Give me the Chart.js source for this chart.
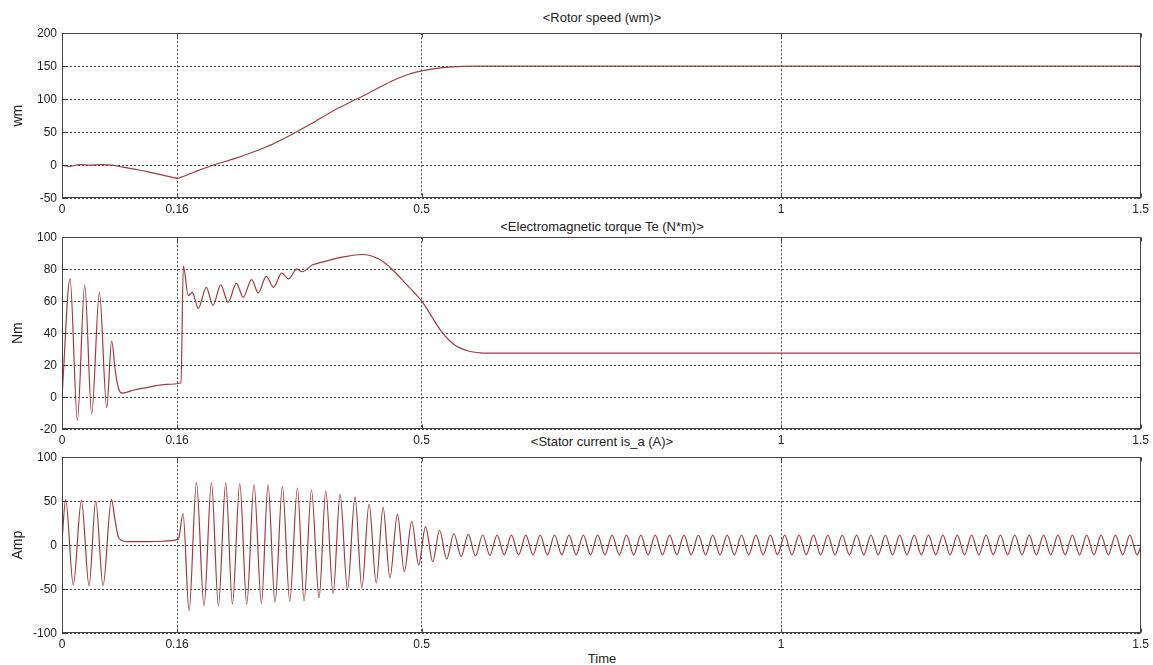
<!DOCTYPE html>
<html>
<head>
<meta charset="utf-8">
<script src="https://cdn.jsdelivr.net/npm/chart.js@4.4.0/dist/chart.umd.min.js"></script>
<style>
  body { margin: 0; background: #fff; width: 1153px; height: 665px; overflow: hidden; position: relative;
         font-family: "Liberation Sans", Arial, sans-serif; }
  canvas { position: absolute; left: 0; }
  .ttl { position: absolute; left: 62px; width: 1080px; text-align: center; font-size: 13px;
         line-height: 15px; color: #222; }
</style>
</head>
<body>
<div class="ttl" id="t1" style="top:10px"></div>
<div class="ttl" id="t2" style="top:219px"></div>
<div class="ttl" id="t3" style="top:434px"></div>
<div class="ttl" id="t4" style="top:651px"></div>
<canvas id="c1" width="1153" height="200"></canvas>
<canvas id="c2" width="1153" height="220"></canvas>
<canvas id="c3" width="1153" height="200"></canvas>
<script>
// titles and axis labels
var plotTitles = ['<Rotor speed (wm)>', '<Electromagnetic torque Te (N*m)>', '<Stator current is_a (A)>'];
var xLabel = 'Time';
var yLabels = ['wm', 'Nm', 'Amp'];
var xTicks = [0, 0.16, 0.5, 1, 1.5];

// [time, value]
var speedData = [
  [0, 0], [0.01, -2], [0.025, 1], [0.04, 0], [0.055, 1], [0.07, 0], [0.085, -3], [0.1, -6],
  [0.12, -10], [0.14, -15], [0.155, -18.8], [0.16, -20], [0.165, -18.5], [0.185, -10], [0.21, 0],
  [0.24, 10], [0.266, 20], [0.295, 33], [0.322, 48], [0.35, 65], [0.378, 83], [0.4, 95],
  [0.424, 108], [0.445, 120], [0.462, 129], [0.48, 137], [0.5, 143], [0.526, 147.5],
  [0.55, 149.5], [0.58, 150], [1.5, 150]
];

var torqueData = [
  [0, 0], [0.0112, 74], [0.0214, -14.5], [0.0316, 70], [0.0413, -10.5], [0.052, 65.5],
  [0.0622, -6.5], [0.069, 35], [0.0745, 15], [0.079, 5], [0.084, 2.5], [0.1, 4.5], [0.123, 6.5],
  [0.145, 8], [0.1655, 9], [0.1687, 82], [0.1756, 63.5], [0.1812, 65.5], [0.1895, 55.5],
  [0.2006, 68.7], [0.21, 57.3], [0.2207, 70.2], [0.231, 59.4], [0.2425, 71.2], [0.252, 62.5],
  [0.2637, 73.5], [0.273, 65.2], [0.284, 75.5], [0.294, 68.7], [0.3055, 77.6], [0.315, 73.9],
  [0.3264, 80.1], [0.334, 78.4], [0.348, 82.6], [0.367, 85], [0.39, 87.5], [0.417, 89.2],
  [0.44, 86.5], [0.459, 80], [0.48, 70], [0.5, 60.2], [0.527, 41.5], [0.545, 33], [0.564, 29],
  [0.582, 27.7], [0.6, 27.5], [1.5, 27.5]
];

var currentData = [
  [0, 5], [0.0051, 52], [0.0157, -45], [0.027, 51], [0.0376, -46], [0.0469, 50], [0.0571, -46],
  [0.0687, 52], [0.0735, 30], [0.078, 10], [0.083, 5.5], [0.09, 4], [0.12, 4], [0.14, 4.5],
  [0.155, 5.5], [0.1618, 7],
  [0.1683, 36], [0.1767, -74.5], [0.187, 71], [0.1975, -69], [0.2078, 71], [0.2175, -69],
  [0.2277, 71], [0.237, -67], [0.2472, 70], [0.2569, -67], [0.267, 69], [0.2773, -66],
  [0.2865, 69], [0.2962, -65], [0.3065, 67], [0.3167, -63.5], [0.3274, 65], [0.3366, -63.4],
  [0.3469, 62.7], [0.3575, -59.7], [0.3668, 61.6], [0.377, -55], [0.3867, 57.8], [0.397, -50.5],
  [0.4075, 54.9], [0.417, -48.5], [0.427, 46.6], [0.437, -43], [0.4465, 42.9], [0.456, -37.3],
  [0.4665, 35.4], [0.476, -30], [0.4864, 27.2], [0.496, -22.4], [0.5055, 21], [0.5155, -18.7],
  [0.525, 17], [0.535, -15.7], [0.545, 13], [0.555, -13], [0.565, 12.4], [0.575, -12],
  [0.585, 11.6], [0.595, -11.5],
  [0.605, 11.5], [0.615, -11], [0.625, 11.5], [0.635, -11], [0.645, 11.5], [0.655, -11], [0.665, 11.5], [0.675, -11], [0.685, 11.5], [0.695, -11],
  [0.705, 11.5], [0.715, -11], [0.725, 11.5], [0.735, -11], [0.745, 11.5], [0.755, -11], [0.765, 11.5], [0.775, -11], [0.785, 11.5], [0.795, -11],
  [0.805, 11.5], [0.815, -11], [0.825, 11.5], [0.835, -11], [0.845, 11.5], [0.855, -11], [0.865, 11.5], [0.875, -11], [0.885, 11.5], [0.895, -11],
  [0.905, 11.5], [0.915, -11], [0.925, 11.5], [0.935, -11], [0.945, 11.5], [0.955, -11], [0.965, 11.5], [0.975, -11], [0.985, 11.5], [0.995, -11],
  [1.005, 11.5], [1.015, -11], [1.025, 11.5], [1.035, -11], [1.045, 11.5], [1.055, -11], [1.065, 11.5], [1.075, -11], [1.085, 11.5], [1.095, -11],
  [1.105, 11.5], [1.115, -11], [1.125, 11.5], [1.135, -11], [1.145, 11.5], [1.155, -11], [1.165, 11.5], [1.175, -11], [1.185, 11.5], [1.195, -11],
  [1.205, 11.5], [1.215, -11], [1.225, 11.5], [1.235, -11], [1.245, 11.5], [1.255, -11], [1.265, 11.5], [1.275, -11], [1.285, 11.5], [1.295, -11],
  [1.305, 11.5], [1.315, -11], [1.325, 11.5], [1.335, -11], [1.345, 11.5], [1.355, -11], [1.365, 11.5], [1.375, -11], [1.385, 11.5], [1.395, -11],
  [1.405, 11.5], [1.415, -11], [1.425, 11.5], [1.435, -11], [1.445, 11.5], [1.455, -11], [1.465, 11.5], [1.475, -11], [1.485, 11.5], [1.495, -11],
  [1.5, -2]
];

var lineColor = '#a03a42';
var gridColor = '#444';
var textColor = '#222';
var tickFont = { family: '"Liberation Sans", Arial, sans-serif', size: 12 };
var labelFont = { family: '"Liberation Sans", Arial, sans-serif', size: 14 };

document.getElementById('t1').textContent = plotTitles[0];
document.getElementById('t2').textContent = plotTitles[1];
document.getElementById('t3').textContent = plotTitles[2];
document.getElementById('t4').textContent = xLabel;

// box round the plot area plus short inner tick marks, like the scope window
var framePlugin = {
  id: 'frame',
  afterDraw: function(chart) {
    var a = chart.chartArea;
    var ctx = chart.ctx;
    var l = Math.round(a.left) + 0.5, t = Math.round(a.top) + 0.5;
    var r = Math.round(a.right) - 0.5, b = Math.round(a.bottom) - 0.5;
    ctx.save();
    ctx.strokeStyle = '#444';
    ctx.lineWidth = 1;
    ctx.strokeRect(l, t, r - l, b - t);
    ctx.beginPath();
    chart.scales.y.ticks.forEach(function(tk) {
      var y = Math.round(chart.scales.y.getPixelForValue(tk.value)) + 0.5;
      ctx.moveTo(l, y); ctx.lineTo(l + 4, y);
      ctx.moveTo(r, y); ctx.lineTo(r - 4, y);
    });
    chart.scales.x.ticks.forEach(function(tk) {
      var x = Math.round(chart.scales.x.getPixelForValue(tk.value)) + 0.5;
      ctx.moveTo(x, b); ctx.lineTo(x, b - 4);
      ctx.moveTo(x, t); ctx.lineTo(x, t + 4);
    });
    ctx.stroke();
    ctx.restore();
  }
};

// plotTop / plotBottom: where the plot box sits in the page
function makeScope(id, points, yMin, yMax, yStep, yLabel, plotTop, plotBottom) {
  var canvas = document.getElementById(id);
  var chart = new Chart(canvas, {
    type: 'line',
    data: {
      datasets: [{
        data: points.map(function(p) { return { x: p[0], y: p[1] }; }),
        borderColor: lineColor,
        borderWidth: 1.2,
        pointRadius: 0,
        cubicInterpolationMode: 'monotone',
        fill: false
      }]
    },
    options: {
      responsive: false,
      maintainAspectRatio: false,
      animation: false,
      events: [],
      layout: { padding: { top: 8, right: 10, left: 0, bottom: 0 } },
      plugins: { legend: { display: false }, tooltip: { enabled: false } },
      scales: {
        x: {
          type: 'linear', min: 0, max: 1.5,
          afterBuildTicks: function(s) { s.ticks = xTicks.map(function(v) { return { value: v }; }); },
          afterFit: function(s) { s.height = 22; },
          ticks: { callback: function(v) { return String(v); }, padding: 4, maxRotation: 0,
                   autoSkip: false, font: tickFont, color: textColor },
          grid: { color: gridColor, lineWidth: 1, drawTicks: false },
          border: { display: false, dash: [2, 2] }
        },
        y: {
          min: yMin, max: yMax,
          afterFit: function(s) { s.width = 62; },
          ticks: { stepSize: yStep, padding: 5, font: tickFont, color: textColor },
          title: { display: true, text: yLabel, padding: { top: 10, bottom: 0 }, font: labelFont, color: textColor },
          grid: { color: gridColor, lineWidth: 1, drawTicks: false },
          border: { display: false, dash: [2, 2] }
        }
      }
    },
    plugins: [framePlugin]
  });
  // size and place the canvas so the plot box lands where the scope window has it
  var dt = chart.chartArea.top;
  var db = chart.height - chart.chartArea.bottom;
  chart.resize(1153, dt + (plotBottom - plotTop) + db);
  canvas.style.top = (plotTop - chart.chartArea.top) + 'px';
}

makeScope('c1', speedData, -50, 200, 50, yLabels[0], 33, 198);
makeScope('c2', torqueData, -20, 100, 20, yLabels[1], 237, 429);
makeScope('c3', currentData, -100, 100, 50, yLabels[2], 457, 633);
</script>
</body>
</html>
